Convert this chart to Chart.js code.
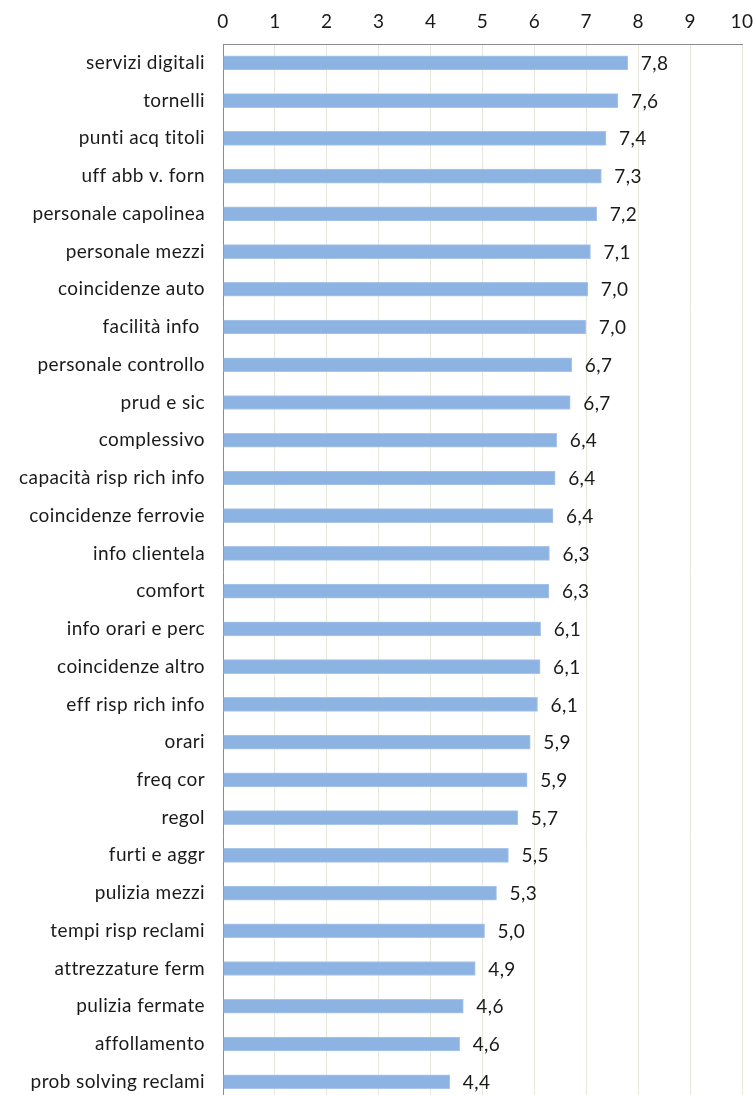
<!DOCTYPE html>
<html>
<head>
<meta charset="utf-8">
<script src="https://cdn.jsdelivr.net/npm/chart.js@4/dist/chart.umd.min.js"></script>
<style>
  html, body { margin: 0; padding: 0; background: #fff; overflow: hidden; }
  #wrap { width: 756px; height: 1130px; }
</style>
</head>
<body>
<div id="wrap"><canvas id="myChart" width="756" height="1130"></canvas></div>
<script>
// categories, top to bottom
var labels = ['servizi digitali', 'tornelli', 'punti acq titoli', 'uff abb v. forn',
  'personale capolinea', 'personale mezzi', 'coincidenze auto', 'facilità info ',
  'personale controllo', 'prud e sic', 'complessivo', 'capacità risp rich info',
  'coincidenze ferrovie', 'info clientela', 'comfort', 'info orari e perc',
  'coincidenze altro', 'eff risp rich info', 'orari', 'freq cor', 'regol',
  'furti e aggr', 'pulizia mezzi', 'tempi risp reclami', 'attrezzature ferm',
  'pulizia fermate', 'affollamento', 'prob solving reclami'];

// scores
var scores = [7.80, 7.61, 7.38, 7.29, 7.20, 7.08, 7.03, 6.99, 6.72, 6.69, 6.43, 6.40,
  6.36, 6.29, 6.28, 6.12, 6.11, 6.06, 5.92, 5.86, 5.68, 5.50, 5.27, 5.04, 4.86,
  4.63, 4.56, 4.37];

var xMin = 0, xMax = 10, xStep = 1;

var fontFamily = 'Lato, "Liberation Sans", sans-serif';
var textColor = '#1a1a1a';

// a touch of letter spacing, like the original rendering
var spacing = {
  id: 'spacing',
  beforeDraw: function(chart) { chart.ctx.letterSpacing = '0.4px'; }
};

// value labels at the end of each bar (comma decimal)
var valueLabels = {
  id: 'valueLabels',
  afterDatasetsDraw: function(chart) {
    var ctx = chart.ctx;
    var meta = chart.getDatasetMeta(0);
    ctx.save();
    ctx.font = '19px ' + fontFamily;
    ctx.fillStyle = textColor;
    ctx.textAlign = 'left';
    ctx.textBaseline = 'middle';
    meta.data.forEach(function(bar, i) {
      var txt = scores[i].toFixed(1).replace('.', ',');
      ctx.fillText(txt, bar.x + 13, bar.y + 1);
    });
    ctx.restore();
  }
};

var chartData = {
  labels: labels,
  datasets: [{
    data: scores,
    backgroundColor: '#8db3e2',
    borderColor: '#a9c6ea',
    borderWidth: 1,
    barThickness: 14
  }]
};

var chartOptions = {
  indexAxis: 'y',
  responsive: false,
  animation: false,
  layout: { padding: { left: 0, top: 0, right: 14, bottom: 0 } },
  plugins: {
    legend: { display: false },
    tooltip: { enabled: false }
  },
  scales: {
    x: {
      position: 'top',
      min: xMin,
      max: xMax,
      afterFit: function(scale) {
        scale.height = 44;
        scale.paddingLeft = 0;
        scale.paddingRight = 0;
      },
      ticks: {
        stepSize: xStep,
        padding: 11,
        color: textColor,
        font: { family: fontFamily, size: 19 }
      },
      grid: { color: '#e9e6dc', lineWidth: 1, drawTicks: false },
      border: { display: true, color: '#8c8c8c', width: 1 }
    },
    y: {
      afterFit: function(scale) { scale.width = 223; },
      ticks: {
        padding: 18,
        color: textColor,
        font: { family: fontFamily, size: 19 },
        autoSkip: false
      },
      grid: { display: false, drawTicks: false },
      border: { display: true, color: '#8c8c8c', width: 1 }
    }
  }
};

var element = document.getElementById('myChart').getContext('2d');
var chart = new Chart(element, { type: 'bar', data: chartData, options: chartOptions, plugins: [spacing, valueLabels] });
</script>
</body>
</html>
